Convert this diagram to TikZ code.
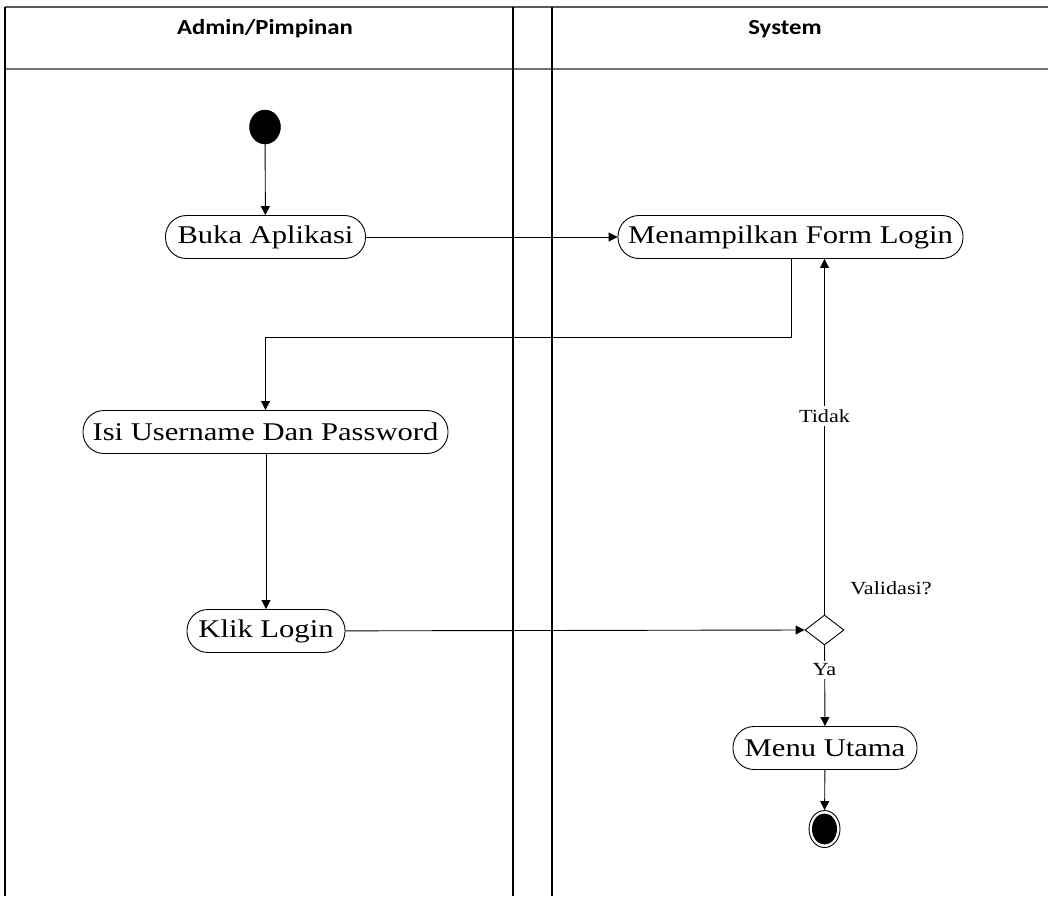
\documentclass[tikz,border=0pt]{standalone}
\usepackage{fontspec}
\usetikzlibrary{arrows.meta,shapes.geometric}
\newfontfamily\lblfont{Liberation Serif}[FakeStretch=1.2]
\newfontfamily\hdrfont{Carlito}[FakeStretch=1.15]
\begin{document}
\begin{tikzpicture}[x=1pt,y=-1pt,
  act/.style={draw,line width=0.9pt,rounded corners=21pt,minimum height=43pt,inner sep=0pt,
    font=\lblfont\fontsize{25.5}{28}\selectfont},
  lbl/.style={font=\lblfont\fontsize{18.5}{21}\selectfont,inner sep=1pt},
  lblw/.style={lbl,fill=white,inner xsep=3pt,inner ysep=3pt},
  hdr/.style={font=\hdrfont\bfseries\fontsize{21.5}{24}\selectfont},
  conn/.style={line width=0.9pt},
  arr/.style={conn,-{Triangle[length=9pt,width=9pt]}},
  frameline/.style={line width=1.3pt},
]
\useasboundingbox (0,0) rectangle (1048,896);
% frame
\draw[frameline,draw=black!65,line width=2pt] (5,7) -- (1048,7);
\draw[frameline,draw=black!55,line width=1.8pt] (5,69) -- (1048,69);
\draw[frameline] (5,7) -- (5,896);
\draw[frameline] (513,7) -- (513,896);
\draw[frameline] (552,7) -- (552,896);
\node[hdr] (h1) at (265,29) {Admin/Pimpinan};
\node[hdr] (h2) at (785,29) {System};
% nodes
\node[draw,fill=black,ellipse,minimum width=31pt,minimum height=34pt,inner sep=0pt] (start) at (265,127) {};
\node[act,minimum width=200pt] (buka) at (265.5,237) {Buka Aplikasi};
\node[act,minimum width=345pt] (form) at (790.5,237) {Menampilkan Form Login};
\node[act,minimum width=365pt] (isi) at (265.5,432) {Isi Username Dan Password};
\node[act,minimum width=158pt] (klik) at (266,631) {Klik Login};
\node[draw,line width=0.9pt,diamond,minimum width=39pt,minimum height=30pt,inner sep=0pt] (dia) at (824.5,630) {};
\node[act,minimum width=184pt] (menu) at (825,748) {Menu Utama};
\node[draw,line width=0.9pt,ellipse,minimum width=31pt,minimum height=37pt,inner sep=0pt] (end) at (824.5,829) {};
\node[fill=black,ellipse,minimum width=25pt,minimum height=31pt,inner sep=0pt] (endin) at (824.5,829) {};
% connectors
\draw[arr] (start) -- (buka);
\draw[arr] (buka) -- (form);
\coordinate (bend) at (791,337);
\draw[arr] (form.south -| bend) -- (bend) -| (isi.north);
\draw[arr] (isi.south -| klik) -- (klik);
\draw[arr] (klik) -- (dia.west);
\draw[arr] (dia.north) -- (dia.north |- form.south);
\draw[arr] (dia.south) -- (menu.north);
\draw[arr] (menu) -- (end);
% labels (on top of connectors)
\node[lblw] (tidak) at (824.5,416) {Tidak};
\node[lbl] (val) at (891,588) {Validasi?};
\node[lblw] (ya) at (824.5,670) {Ya};
\end{tikzpicture}
\end{document}
